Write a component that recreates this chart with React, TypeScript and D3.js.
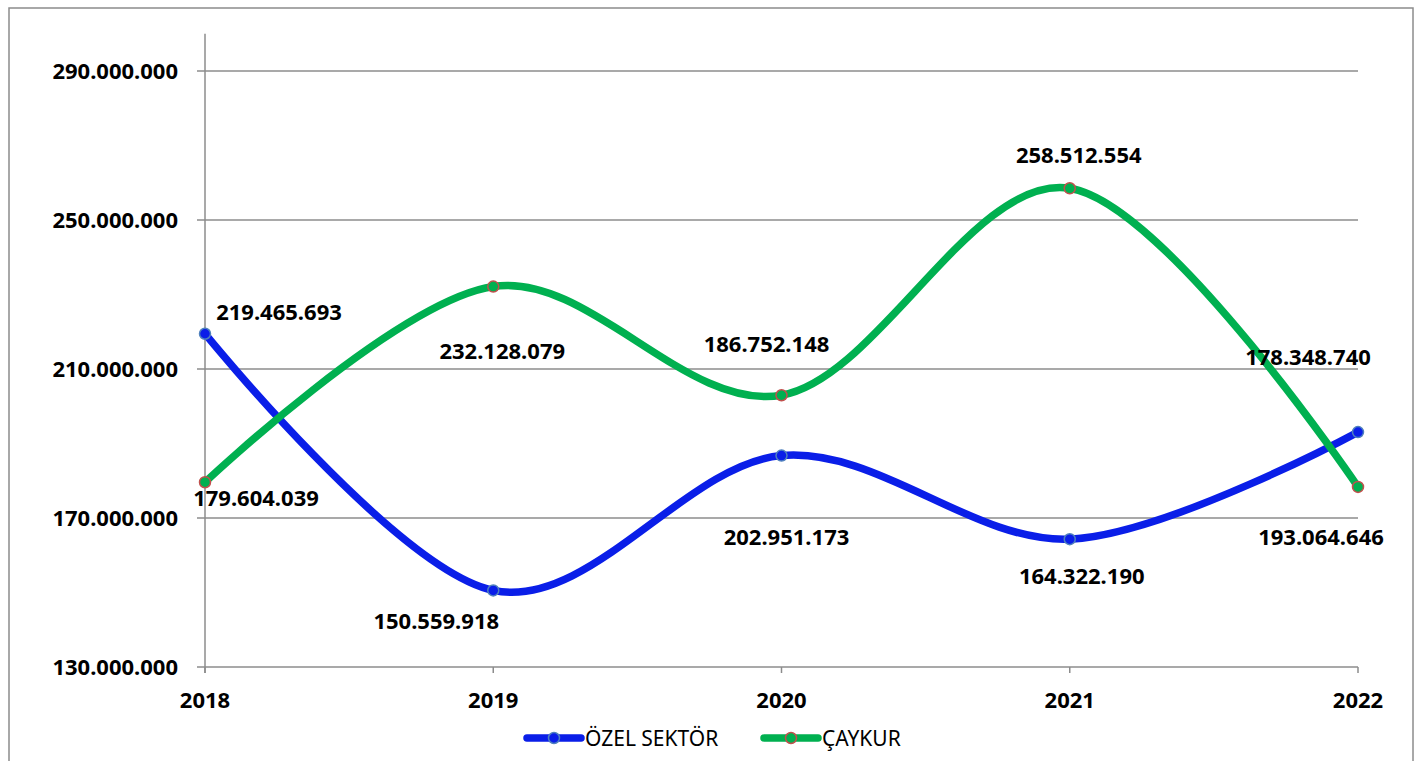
import React from "react";
import * as d3 from "d3";

const years = ["2018", "2019", "2020", "2021", "2022"];
const ozelSektor = [219465693, 150559918, 186752148, 164322190, 193064646];
const caykur = [179604039, 232128079, 202951173, 258512554, 178348740];
const yTicks = [130000000, 170000000, 210000000, 250000000, 290000000];
const seriesNames = ["ÖZEL SEKTÖR", "ÇAYKUR"];

// label offsets from their own point, as placed by hand in the original
const ozelLabelOffsets = [[74, -22], [-57, 31], [-15, -112], [12, 37], [-37, 105]];
const caykurLabelOffsets = [[51, 16], [9, 65], [5, 142], [9, -33], [-50, -130]];

const trFormat = d3.formatLocale({
  decimal: ",",
  thousands: ".",
  grouping: [3],
  currency: ["", ""],
}).format(",d");

const FONT = "'Noto Sans', 'DejaVu Sans', sans-serif";

function App() {
  const width = 1420;
  const height = 761;

  const x = d3.scalePoint<string>().domain(years).range([205, 1358]);
  const y = d3.scaleLinear().domain([130000000, 300000000]).range([667, 33.75]);

  const line = d3
    .line<number>()
    .x((d, i) => x(years[i]) as number)
    .y((d) => y(d))
    .curve(d3.curveCardinal.tension(0));

  const series = [
    { name: seriesNames[0], values: ozelSektor, offsets: ozelLabelOffsets, color: "#0A1EE8", markerStroke: "#4F81BD" },
    { name: seriesNames[1], values: caykur, offsets: caykurLabelOffsets, color: "#00B050", markerStroke: "#C0504D" },
  ];

  const gridColor = "#8C8C8C";
  const legendItems = [
    { x0: 527, textX: 585 },
    { x0: 764, textX: 822 },
  ];

  return (
    <svg
      width={width}
      height={height}
      style={{ position: "absolute", left: 0, top: 0, display: "block", background: "#fff" }}
    >
      <rect x={9} y={8} width={1404} height={770} fill="#fff" stroke="#8C8C8C" strokeWidth={1.5} />

      {/* gridlines and y ticks */}
      {yTicks.map((t) => (
        <g key={t}>
          <line x1={197} x2={1358} y1={y(t)} y2={y(t)} stroke={gridColor} strokeWidth={1.5} />
          <text
            x={178}
            y={y(t)}
            dy="0.36em"
            textAnchor="end"
            fontFamily={FONT}
            fontWeight="bold"
            fontSize={22}
            fill="#000"
          >
            {trFormat(t)}
          </text>
        </g>
      ))}
      <line x1={205} x2={205} y1={y(300000000)} y2={y(130000000) + 6} stroke={gridColor} strokeWidth={1.5} />

      {/* x ticks */}
      {years.map((yr) => (
        <g key={yr}>
          <line x1={x(yr)} x2={x(yr)} y1={667} y2={673} stroke={gridColor} strokeWidth={1.5} />
          <text
            x={x(yr)}
            y={700}
            dy="0.36em"
            textAnchor="middle"
            fontFamily={FONT}
            fontWeight="bold"
            fontSize={22}
            fill="#000"
          >
            {yr}
          </text>
        </g>
      ))}

      {/* lines */}
      {series.map((s) => (
        <path key={s.name} d={line(s.values) || ""} fill="none" stroke={s.color} strokeWidth={7.5} strokeLinecap="round" />
      ))}

      {/* markers */}
      {series.map((s) =>
        s.values.map((v, i) => (
          <circle
            key={s.name + i}
            cx={x(years[i])}
            cy={y(v)}
            r={5.5}
            fill={s.color}
            stroke={s.markerStroke}
            strokeWidth={1.5}
          />
        ))
      )}

      {/* data labels */}
      {series.map((s) =>
        s.values.map((v, i) => (
          <text
            key={"l" + s.name + i}
            x={(x(years[i]) as number) + s.offsets[i][0]}
            y={y(v) + s.offsets[i][1]}
            dy="0.36em"
            textAnchor="middle"
            fontFamily={FONT}
            fontWeight="bold"
            fontSize={22}
            fill="#000"
          >
            {trFormat(v)}
          </text>
        ))
      )}

      {/* legend */}
      {series.map((s, i) => (
        <g key={"lg" + s.name}>
          <line
            x1={legendItems[i].x0}
            x2={legendItems[i].x0 + 54}
            y1={738}
            y2={738}
            stroke={s.color}
            strokeWidth={7.5}
            strokeLinecap="round"
          />
          <circle cx={legendItems[i].x0 + 27} cy={738} r={5.5} fill={s.color} stroke={s.markerStroke} strokeWidth={1.5} />
          <text
            x={legendItems[i].textX}
            y={738}
            dy="0.36em"
            fontFamily={FONT}
            fontSize={21}
            fill="#000"
          >
            {s.name}
          </text>
        </g>
      ))}
    </svg>
  );
}

export default App;
